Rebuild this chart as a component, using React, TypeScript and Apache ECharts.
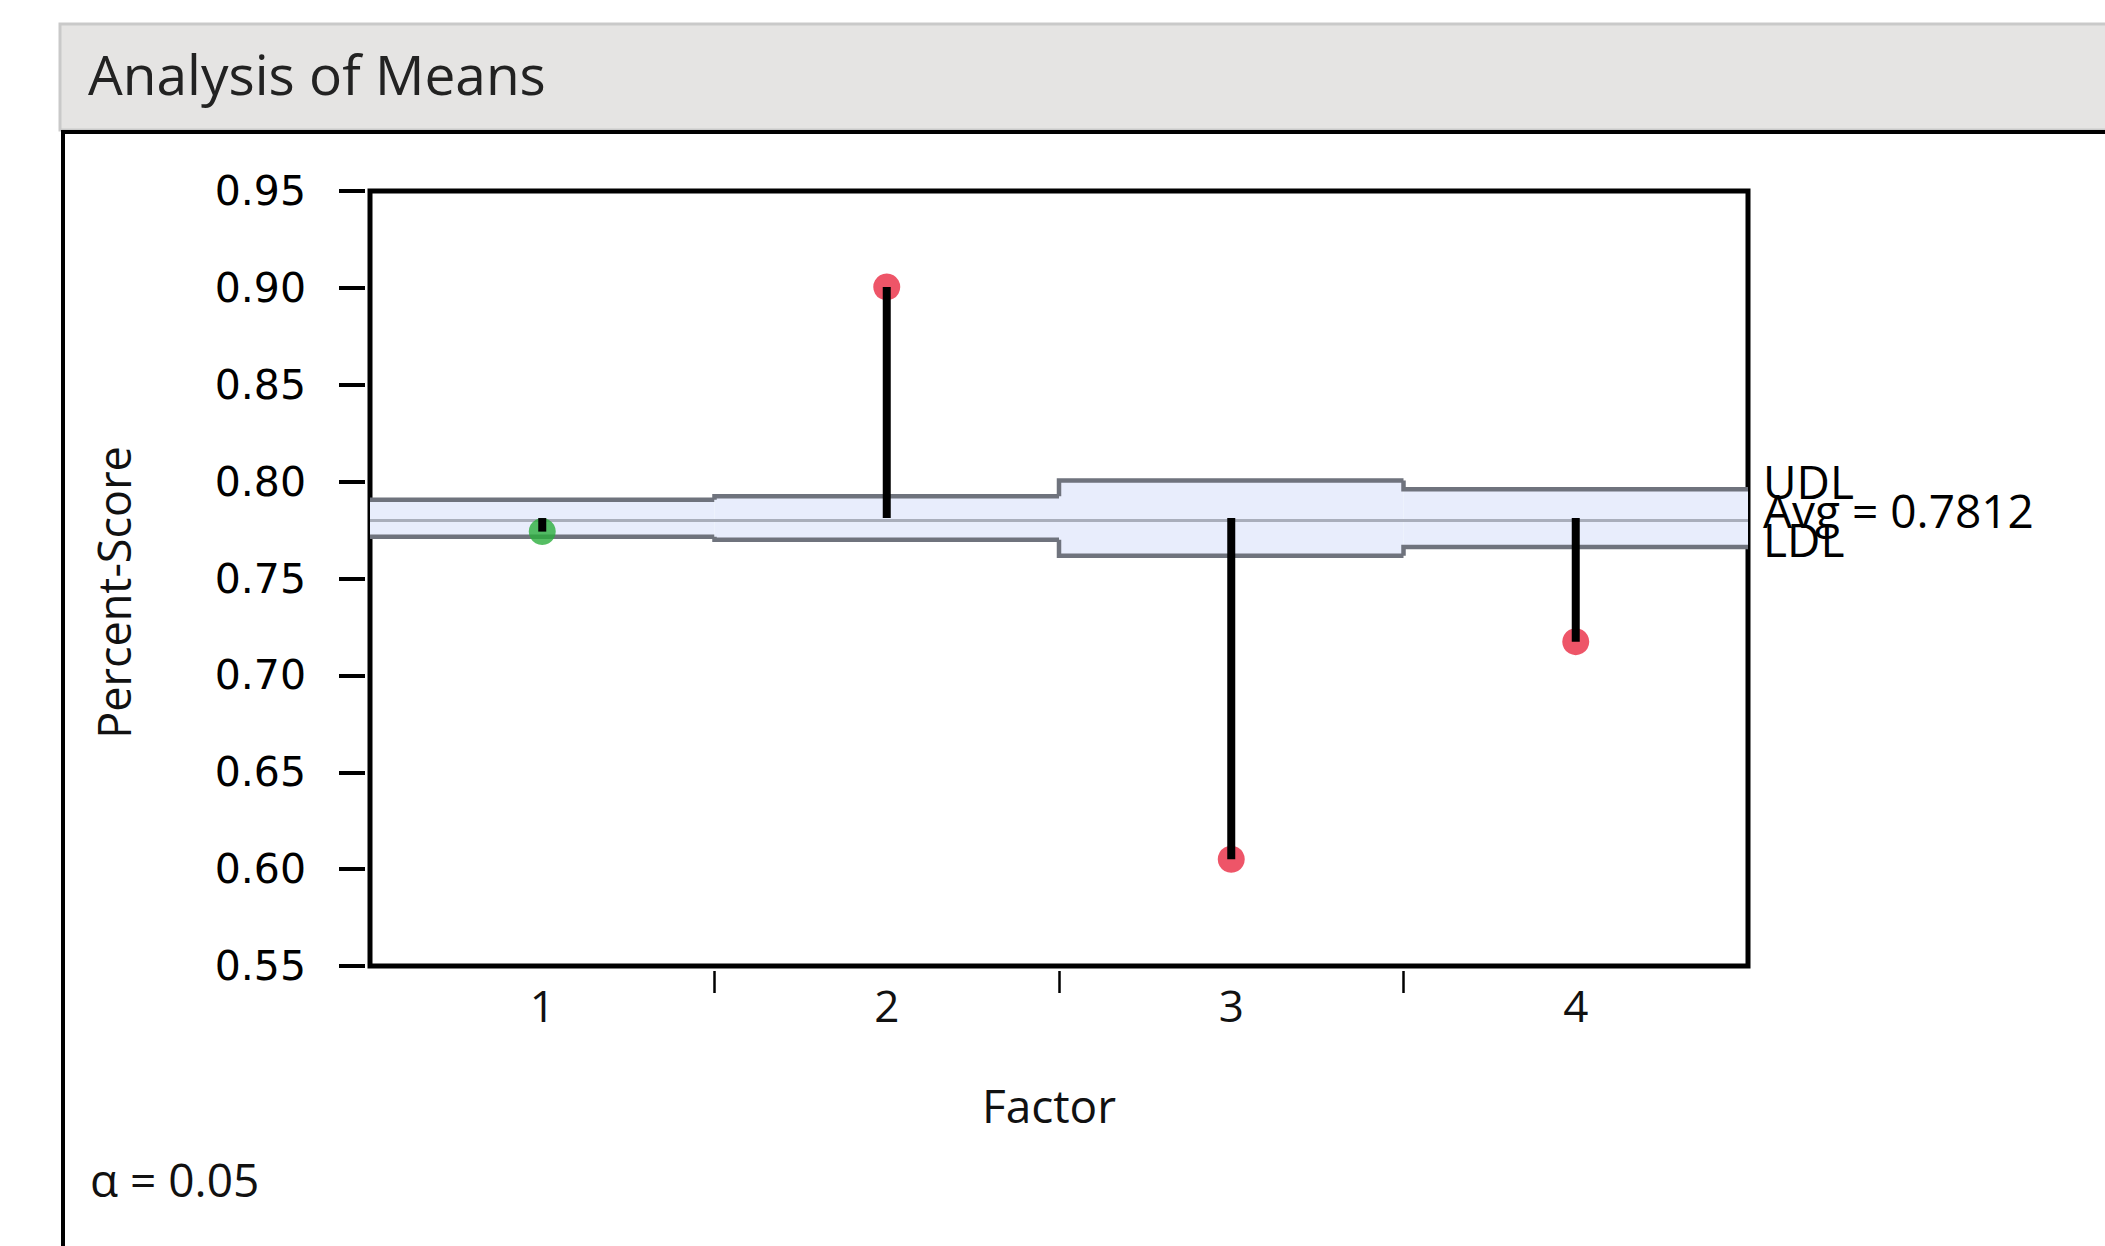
import React, { useEffect, useRef } from "react";
import * as echarts from "echarts";

// ---- data ----
const CATEGORIES = ["1", "2", "3", "4"];
const MEANS = [0.7742, 0.9005, 0.6051, 0.7174];
const UDL = [0.7906, 0.7924, 0.8006, 0.7961];
const LDL = [0.7716, 0.77, 0.7618, 0.7663];
const AVG = 0.7812;
const ALPHA = 0.05;
const Y_MIN = 0.55;
const Y_MAX = 0.95;
const Y_STEP = 0.05;
const TITLE = "Analysis of Means";
const X_NAME = "Factor";
const Y_NAME = "Percent-Score";
const LIMIT_LABELS = ["UDL", `Avg = ${AVG}`, "LDL"];

// half-category slots used only to place the ticks between categories
const TICK_SLOTS = Array.from({ length: CATEGORIES.length * 2 + 1 }, () => "");

const RED = "#ea2b42";
const GREEN = "#2aae3c";
const BAND_FILL = "#e8edfc";
const BAND_EDGE = "#6f737d";
const AVG_LINE = "#a9aebb";
const TEXT_FONT = "Open Sans";

export default function App() {
  const ref = useRef<HTMLDivElement>(null);

  useEffect(() => {
    if (!ref.current) return;
    const chart = echarts.init(ref.current, null, { renderer: "svg" });

    const bandData = UDL.map((u, i) => [i, u, LDL[i]]);
    const stemData = MEANS.map((m, i) => [i, m]);
    const pointData = MEANS.map((m, i) => ({
      value: [i, m],
      itemStyle: { color: m > UDL[i] || m < LDL[i] ? RED : GREEN },
    }));
    const last = UDL.length - 1;

    const baseGraphic: any[] = [
      {
        id: "titlebar",
        type: "rect",
        z: -10,
        shape: { x: 60, y: 24, width: 2100, height: 106 },
        style: { fill: "#e5e4e3", stroke: "#c9c9c9", lineWidth: 3 },
      },
      {
        id: "boxtop",
        type: "line",
        z: -9,
        shape: { x1: 62, y1: 132, x2: 2110, y2: 132 },
        style: { stroke: "#000000", lineWidth: 4 },
      },
      {
        id: "boxleft",
        type: "line",
        z: -9,
        shape: { x1: 63, y1: 130, x2: 63, y2: 1250 },
        style: { stroke: "#000000", lineWidth: 4 },
      },
      {
        id: "alpha",
        type: "text",
        x: 90,
        y: 1179,
        style: {
          text: `α = ${ALPHA}`,
          fontFamily: TEXT_FONT,
          fontSize: 46,
          fill: "#111111",
          verticalAlign: "middle",
        },
      },
    ];

    const option: any = {
      animation: false,
      backgroundColor: "#ffffff",
      title: {
        text: TITLE,
        left: 83,
        top: 41,
        textStyle: {
          fontFamily: TEXT_FONT,
          fontSize: 55,
          lineHeight: 55,
          fontWeight: "normal",
          color: "#222222",
        },
      },
      graphic: baseGraphic,
      grid: {
        left: 370,
        right: 357,
        top: 191,
        bottom: 280,
        show: true,
        borderColor: "#000000",
        borderWidth: 5,
        backgroundColor: "transparent",
      },
      xAxis: [
        {
          type: "category",
          data: CATEGORIES,
          boundaryGap: true,
          axisLine: { show: false },
          axisTick: { show: false },
          splitLine: { show: false },
          axisLabel: {
            margin: 17,
            fontFamily: TEXT_FONT,
            fontSize: 44,
            lineHeight: 44,
            color: "#111111",
          },
          name: X_NAME,
          nameLocation: "middle",
          nameGap: 117,
          nameTextStyle: {
            fontFamily: TEXT_FONT,
            fontSize: 46,
            lineHeight: 44,
            color: "#111111",
            padding: [0, 20, 0, 0],
          },
        },
        {
          type: "category",
          data: TICK_SLOTS,
          boundaryGap: false,
          position: "bottom",
          offset: 5,
          axisLine: { show: false },
          axisLabel: { show: false },
          splitLine: { show: false },
          axisTick: {
            show: true,
            length: 22,
            interval: (idx: number) =>
              idx > 0 && idx < TICK_SLOTS.length - 1 && idx % 2 === 0,
            lineStyle: { color: "#000000", width: 2.5 },
          },
        },
      ],
      yAxis: {
        type: "value",
        min: Y_MIN,
        max: Y_MAX,
        interval: Y_STEP,
        offset: 5,
        axisLine: { show: false },
        splitLine: { show: false },
        axisTick: {
          show: true,
          length: 26,
          lineStyle: { color: "#000000", width: 4 },
        },
        axisLabel: {
          margin: 59,
          fontFamily: "DejaVu Sans",
          fontSize: 41,
          color: "#000000",
          formatter: (v: number) => v.toFixed(2),
        },
        name: Y_NAME,
        nameLocation: "middle",
        nameGap: 230,
        nameRotate: 90,
        nameTextStyle: {
          fontFamily: TEXT_FONT,
          fontSize: 45,
          lineHeight: 44,
          color: "#111111",
          padding: [0, 28, 0, 0],
        },
      },
      series: [
        {
          type: "custom",
          name: "limits",
          z: 2,
          xAxisIndex: 0,
          yAxisIndex: 0,
          data: bandData,
          encode: { x: 0, y: [1, 2] },
          renderItem: (params: any, api: any) => {
            const i = params.dataIndex;
            const c = api.coord([i, AVG]);
            const bw = api.size([1, 0])[0];
            const left = c[0] - bw / 2;
            const right = c[0] + bw / 2;
            const yU = api.coord([i, api.value(1)])[1];
            const yL = api.coord([i, api.value(2)])[1];
            const topPts: number[][] = [];
            const botPts: number[][] = [];
            if (i > 0) {
              topPts.push([left, api.coord([i - 1, UDL[i - 1]])[1]]);
              botPts.push([left, api.coord([i - 1, LDL[i - 1]])[1]]);
            }
            topPts.push([left, yU], [right, yU]);
            botPts.push([left, yL], [right, yL]);
            return {
              type: "group",
              children: [
                {
                  type: "rect",
                  shape: { x: left, y: yU, width: bw, height: yL - yU },
                  style: { fill: BAND_FILL },
                },
                {
                  type: "polyline",
                  shape: { points: topPts },
                  style: { stroke: BAND_EDGE, lineWidth: 4.5, fill: null, lineJoin: "miter" },
                },
                {
                  type: "polyline",
                  shape: { points: botPts },
                  style: { stroke: BAND_EDGE, lineWidth: 4.5, fill: null, lineJoin: "miter" },
                },
              ],
            };
          },
          markLine: {
            silent: true,
            symbol: ["none", "none"],
            z: 3,
            label: { show: false },
            data: [
              {
                yAxis: AVG,
                lineStyle: { color: AVG_LINE, width: 3, type: "solid" },
              },
            ],
          },
        },
        {
          type: "scatter",
          name: "means",
          z: 6,
          xAxisIndex: 0,
          yAxisIndex: 0,
          symbol: "circle",
          symbolSize: 27,
          data: pointData,
        },
        {
          type: "custom",
          name: "stems",
          z: 7,
          xAxisIndex: 0,
          yAxisIndex: 0,
          data: stemData,
          encode: { x: 0, y: 1 },
          renderItem: (params: any, api: any) => {
            const i = params.dataIndex;
            const p0 = api.coord([i, AVG]);
            const p1 = api.coord([i, api.value(1)]);
            return {
              type: "line",
              shape: { x1: p0[0], y1: p0[1], x2: p1[0], y2: p1[1] },
              style: { stroke: "#000000", lineWidth: 8 },
            };
          },
        },
      ],
    };

    chart.setOption(option);

    // place the UDL / Avg / LDL labels at the right end of the plot, using the axis scales
    const x0 = chart.convertToPixel({ xAxisIndex: 0 }, CATEGORIES[last]) as number;
    const xPrev = chart.convertToPixel({ xAxisIndex: 0 }, CATEGORIES[last - 1]) as number;
    const xRight = x0 + (x0 - xPrev) / 2;
    const limitValues = [UDL[last], AVG, LDL[last]];
    const labelGraphic = limitValues.map((v, k) => ({
      id: `limit-label-${k}`,
      type: "text",
      x: xRight + 15,
      y: (chart.convertToPixel({ yAxisIndex: 0 }, v) as number) - 8,
      z: 10,
      style: {
        text: LIMIT_LABELS[k],
        fontFamily: TEXT_FONT,
        fontSize: 46,
        fill: "#000000",
        verticalAlign: "middle",
        align: "left",
      },
    }));
    chart.setOption({ graphic: [...baseGraphic, ...labelGraphic] });

    return () => chart.dispose();
  }, []);

  return (
    <div
      ref={ref}
      style={{ position: "fixed", left: 0, top: 0, width: 2105, height: 1246 }}
    />
  );
}
